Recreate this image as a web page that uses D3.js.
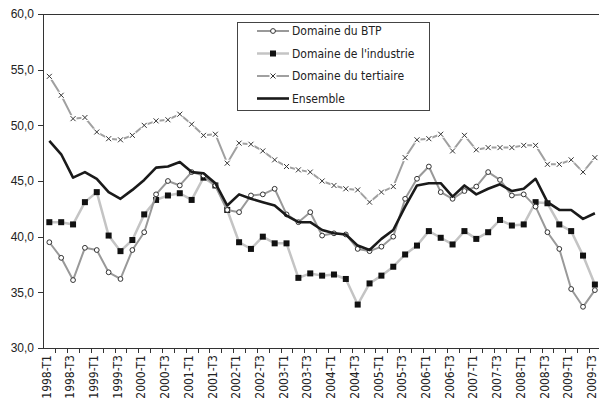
<!DOCTYPE html>
<meta charset="utf-8">
<style>
body { margin: 0; background: #fff; }
svg { display: block; font-family: "DejaVu Sans Condensed", "DejaVu Sans", sans-serif; }
.axis text { font-size: 12px; fill: #222; }
.axis path, .axis line { fill: none; stroke: #333; shape-rendering: crispEdges; }
.legend text { font-size: 12px; fill: #222; }
</style>
<body>
<svg></svg>
<script src="https://d3js.org/d3.v7.min.js"></script>
<script>

var years = d3.range(1998, 2010);
var quarters = [];
years.forEach(function(y) {
  ["T1", "T2", "T3", "T4"].forEach(function(t) {
    if (y == 2009 && t == "T4") return;
    quarters.push(y + "-" + t);
  });
});

var btp = [39.5, 38.1, 36.1, 39.0, 38.8, 36.8, 36.2, 38.8, 40.4, 43.8, 45.0, 44.6,
  45.8, 45.5, 44.6, 42.4, 42.2, 43.7, 43.8, 44.3, 42.0, 41.3, 42.2, 40.1,
  40.3, 40.2, 38.9, 38.7, 39.1, 40.0, 43.4, 45.2, 46.3, 44.0, 43.4, 44.1,
  44.5, 45.8, 45.1, 43.7, 43.8, 42.7, 40.4, 38.9, 35.3, 33.7, 35.2];

var industrie = [41.3, 41.3, 41.1, 43.1, 44.0, 40.1, 38.7, 39.7, 42.0, 43.3, 43.7, 43.9,
  43.3, 45.3, 44.6, 42.4, 39.5, 38.9, 40.0, 39.4, 39.4, 36.3, 36.7, 36.5,
  36.6, 36.2, 33.9, 35.8, 36.5, 37.3, 38.4, 39.2, 40.5, 39.9, 39.3, 40.5,
  39.8, 40.4, 41.5, 41.0, 41.1, 43.1, 43.0, 41.1, 40.5, 38.3, 35.7];

var tertiaire = [54.4, 52.7, 50.6, 50.7, 49.4, 48.8, 48.7, 49.1, 50.0, 50.4, 50.5, 51.0,
  50.1, 49.1, 49.2, 46.6, 48.4, 48.3, 47.7, 46.9, 46.3, 46.0, 45.8, 45.0,
  44.6, 44.3, 44.2, 43.1, 44.0, 44.5, 47.1, 48.7, 48.8, 49.2, 47.7, 49.1,
  47.8, 48.0, 48.0, 48.0, 48.2, 48.2, 46.5, 46.5, 46.9, 45.8, 47.1];

var ensemble = [48.6, 47.4, 45.3, 45.8, 45.2, 44.0, 43.4, 44.2, 45.1, 46.2, 46.3, 46.7,
  45.8, 45.7, 44.8, 42.8, 43.8, 43.4, 43.1, 42.8, 41.9, 41.3, 41.3, 40.6,
  40.3, 40.2, 39.2, 38.8, 39.8, 40.6, 42.7, 44.6, 44.8, 44.8, 43.6, 44.6,
  43.8, 44.3, 44.7, 44.1, 44.3, 45.2, 43.1, 42.4, 42.4, 41.6, 42.1];

var yTicks = [30, 35, 40, 45, 50, 55, 60];

var series = [
  {name: "Domaine du BTP", values: btp, color: "#999999", width: 2, marker: "circle"},
  {name: "Domaine de l'industrie", values: industrie, color: "#c4c4c4", width: 2.5, marker: "square"},
  {name: "Domaine du tertiaire", values: tertiaire, color: "#a0a0a0", width: 2, marker: "cross"},
  {name: "Ensemble", values: ensemble, color: "#1a1a1a", width: 2.6, marker: null}
];

var width = 599, height = 410;
var mLeft = 43.4, mTop = 14, mBottom = 348;

var svg = d3.select("svg")
    .attr("width", width)
    .attr("height", height);

var x = d3.scaleBand()
    .domain(quarters)
    .range([mLeft, mLeft + 47 * 11.86])
    .padding(0);

var y = d3.scaleLinear()
    .domain([30, 60])
    .range([mBottom, mTop]);

function cx(i) { return x(quarters[i]) + x.bandwidth() / 2; }

// frame top line
svg.append("line")
    .attr("x1", mLeft).attr("x2", width)
    .attr("y1", y(60) + 0.5).attr("y2", y(60) + 0.5)
    .attr("stroke", "#333").attr("shape-rendering", "crispEdges");

// y axis
var yAxis = d3.axisLeft(y)
    .tickValues(yTicks)
    .tickSize(5)
    .tickPadding(4)
    .tickFormat(function(d) { return d3.format(".1f")(d).replace(".", ","); });

svg.append("g")
    .attr("class", "y axis")
    .attr("transform", "translate(" + Math.round(mLeft) + ",0)")
    .call(yAxis)
    .call(function(g) { g.select(".domain").attr("d", "M0.5," + mTop + "V" + mBottom); });

// x axis: ticks on band boundaries
var xg = svg.append("g").attr("class", "x axis");
xg.append("line")
    .attr("x1", mLeft).attr("x2", width)
    .attr("y1", mBottom + 0.5).attr("y2", mBottom + 0.5);
xg.selectAll(".tk")
    .data(quarters)
    .enter().append("line")
    .attr("class", "tk")
    .attr("x1", function(d) { return Math.round(x(d) + x.bandwidth()) + 0.5; })
    .attr("x2", function(d) { return Math.round(x(d) + x.bandwidth()) + 0.5; })
    .attr("y1", mBottom).attr("y2", mBottom + 5);
xg.selectAll("text")
    .data(quarters.filter(function(d) { return /T1|T3/.test(d); }))
    .enter().append("text")
    .attr("transform", function(d) {
      return "translate(" + (x(d) + x.bandwidth() / 2 - 3) + "," + (mBottom + 7) + ") rotate(-90)";
    })
    .attr("text-anchor", "end")
    .attr("dy", "0.35em")
    .text(function(d) { return d; });

var line = d3.line()
    .x(function(d, i) { return cx(i); })
    .y(function(d) { return y(d); });

function drawMarker(g, type, px, py) {
  if (type == "circle") {
    g.append("circle").attr("cx", px).attr("cy", py).attr("r", 2.4)
      .attr("fill", "#fff").attr("stroke", "#333").attr("stroke-width", 1);
  } else if (type == "square") {
    g.append("rect").attr("x", px - 3).attr("y", py - 3)
      .attr("width", 6).attr("height", 6).attr("fill", "#111");
  } else if (type == "cross") {
    g.append("rect").attr("x", px - 3.5).attr("y", py - 3.5)
      .attr("width", 7).attr("height", 7).attr("fill", "#fff");
    g.append("path")
      .attr("d", "M" + (px - 2.5) + "," + (py - 2.5) + "L" + (px + 2.5) + "," + (py + 2.5) +
                 "M" + (px - 2.5) + "," + (py + 2.5) + "L" + (px + 2.5) + "," + (py - 2.5))
      .attr("stroke", "#333").attr("stroke-width", 1);
  }
}

// draw order: tertiary, industry, BTP, ensemble
[2, 1, 0, 3].forEach(function(k) {
  var s = series[k];
  var g = svg.append("g");
  g.append("path")
    .datum(s.values)
    .attr("fill", "none")
    .attr("stroke", s.color)
    .attr("stroke-width", s.width)
    .attr("stroke-linejoin", "round")
    .attr("d", line);
  if (s.marker) {
    s.values.forEach(function(v, i) { drawMarker(g, s.marker, cx(i), y(v)); });
  }
});

// legend
var lg = svg.append("g").attr("class", "legend");
lg.append("rect")
    .attr("x", 237.5).attr("y", 22.5)
    .attr("width", 192).attr("height", 88)
    .attr("fill", "#fff").attr("stroke", "#444");
series.forEach(function(s, i) {
  var ly = 31 + i * 22.5;
  lg.append("line")
    .attr("x1", 257).attr("x2", 289)
    .attr("y1", ly).attr("y2", ly)
    .attr("stroke", s.color).attr("stroke-width", s.width);
  if (s.marker) drawMarker(lg, s.marker, 273, ly);
  lg.append("text")
    .attr("x", 292).attr("y", ly)
    .attr("dy", "0.35em")
    .text(s.name);
});

</script>
